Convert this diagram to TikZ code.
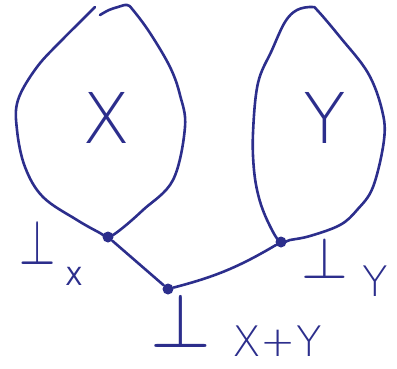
\documentclass[tikz,border=0pt]{standalone}
\usepackage{fontspec}
\newfontfamily\hand{DejaVu Sans ExtraLight}
\newfontfamily\handreg{DejaVu Sans}
\definecolor{ink}{RGB}{44,46,140}
\begin{document}
\begin{tikzpicture}[x=1pt,y=1pt,
  stroke/.style={draw=ink,line width=2.6pt,line cap=round,line join=round},
  pt/.style={circle,fill=ink,inner sep=0pt,minimum size=11pt},
  lbl/.style={text=ink,inner sep=0pt}]
\useasboundingbox (0,0) rectangle (397,-368);
% X blob
\draw[stroke] plot[smooth,tension=0.6] coordinates {(95,-7) (80,-22) (62,-40) (37,-67) (18,-100) (17,-130) (25,-167) (43,-197) (77,-220) (100,-233) (108,-237) (120,-230) (143,-210) (173,-180) (185,-127) (180,-95) (170,-67) (150,-33) (133,-10) (127,-5) (118,-7) (109,-10) (100,-15)};
% Y blob
\draw[stroke] plot[smooth cycle,tension=0.6] coordinates {(280,-242) (268,-222) (259,-198) (254,-170) (253,-133) (258,-83) (272,-50) (285,-22) (297,-10) (312,-7) (318,-11) (340,-37) (368,-73) (382,-110) (384,-140) (373,-187) (357,-210) (340,-225) (310,-236) (290,-240)};
% points
\node[pt] (bx) at (108,-237) {};
\node[pt] (by) at (281,-242) {};
\node[pt] (bxy) at (168,-289) {};
\draw[stroke] (bx) -- (bxy);
\draw[stroke] (bxy) to[bend right=8] (by);
% labels
\node[lbl] (lx) at (106,-118) {\hand\fontsize{70}{70}\selectfont X};
\node[lbl] (ly) at (325,-118) {\hand\fontsize{70}{70}\selectfont Y};
\node[lbl,anchor=base] (botx) at (38,-264) {\scalebox{4.65}[6.4]{$\bot$}};
\node[lbl] (subx) at (74,-276) {\handreg\fontsize{25}{25}\selectfont X};
\node[lbl,anchor=base] (boty) at (325,-278) {\scalebox{6.0}[5.9]{$\bot$}};
\node[lbl] (suby) at (375,-281) {\hand\fontsize{42}{42}\selectfont Y};
\node[lbl,anchor=base] (botxy) at (181,-347) {\scalebox{7.8}[7.8]{$\bot$}};
\node[lbl,anchor=base] (subxy) at (277,-356) {\hand\fontsize{42}{42}\selectfont X+Y};
\end{tikzpicture}
\end{document}
